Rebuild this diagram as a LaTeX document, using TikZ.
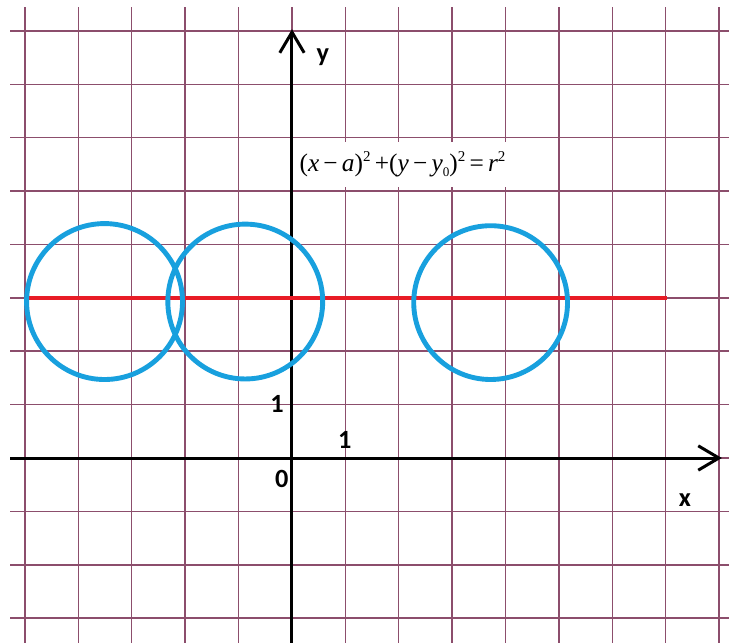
\documentclass[tikz,border=0pt]{standalone}
\usepackage{fontspec}
\setmainfont{Liberation Serif}
\newfontfamily\labelfont{Carlito}
\usepackage{tikz}
\usetikzlibrary{arrows.meta}

\definecolor{gridpurple}{RGB}{140,78,108}
\definecolor{circblue}{RGB}{24,160,222}
\definecolor{linered}{RGB}{232,28,38}

\newcommand{\sqr}{\raisebox{0.85ex}{\footnotesize 2}}

\begin{document}
\begin{tikzpicture}[
    gridline/.style={gridpurple, line width=0.75pt},
    axis/.style={line width=1.6pt, -{Straight Barb[length=11pt, width=13pt]}},
    circ/.style={circblue, line width=2.6pt},
    lbl/.style={font=\labelfont\bfseries\fontsize{14}{16}\selectfont, inner sep=1pt},
    eq/.style={fill=white, font=\fontsize{13.5}{15}\selectfont, inner sep=0pt, minimum width=4.08cm, minimum height=0.84cm}
]
\useasboundingbox[fill=white] (-5.468,-3.464) rectangle (8.315,8.577);

% Squared paper
\foreach \gx in {-5,...,8}
    \draw[gridline] (\gx,-3.464) -- (\gx,8.45);
\foreach \gy in {-3,...,8}
    \draw[gridline] (-5.28,\gy) -- (8.18,\gy);

% Formula
\node[eq] (formula) at (2.07,5.5) {(\textit{x}\,−\,\textit{a})\sqr\,+(\textit{y}\,−\,\textit{y}\raisebox{-0.4ex}{\scriptsize 0})\sqr\,=\,\textit{r}\sqr};

% Axes
\coordinate (xstart) at (-5.28,0);
\coordinate (xend) at (8.05,0);
\coordinate (ystart) at (0,-3.464);
\coordinate (yend) at (0,8.03);
\draw[axis] (xstart) -- (xend);
\draw[axis] (ystart) -- (yend);

\node[lbl] (xlabel) at (7.36,-0.79) {x};
\node[lbl] (ylabel) at (0.58,7.51) {y};
\node[lbl] (origin) at (-0.19,-0.39) {0};
\node[lbl] (yone) at (-0.28,1.01) {1};
\node[lbl] (xone) at (0.99,0.34) {1};

% Line of centres
\coordinate (redleft) at (-5,3);
\coordinate (redright) at (7.03,3);
\draw[linered, line width=2.4pt] (redleft) -- (redright);

% Circles
\draw[circ] (-3.51,2.93) circle (1.46);
\draw[circ] (-0.875,2.93) circle (1.45);
\draw[circ] (3.72,2.91) circle (1.44);

\end{tikzpicture}
\end{document}
